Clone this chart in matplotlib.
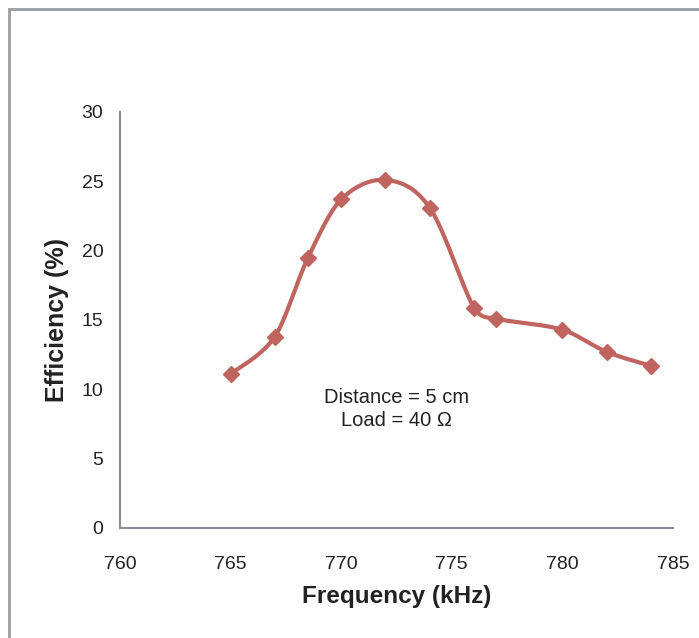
import numpy as np
import matplotlib
matplotlib.use("Agg")
import matplotlib.pyplot as plt
from matplotlib.patches import Rectangle

plt.rcParams['font.family'] = ['Liberation Sans', 'DejaVu Sans']

freq = [765, 767, 768.5, 770, 772, 774, 776, 777, 780, 782, 784]        # kHz
eff = [11.1, 13.8, 19.5, 23.7, 25.1, 23.1, 15.9, 15.1, 14.3, 12.7, 11.7]  # %
xticks = [760, 765, 770, 775, 780, 785]
yticks = [0, 5, 10, 15, 20, 25, 30]

line_col = '#BF645E'
axis_col = '#8A8D93'


def smooth(x, y, n=30):
    # bezier smoothing like a spreadsheet "smoothed line"
    p = np.column_stack([x, y]).astype(float)
    pts = [p[0]]
    t = np.linspace(0, 1, n)[1:, None]
    for i in range(len(p) - 1):
        a = p[i - 1] if i > 0 else p[i]
        d = p[i + 2] if i + 2 < len(p) else p[i + 1]
        dx = p[i + 1][0] - p[i][0]
        t1 = (p[i + 1] - a) / 6
        t2 = (d - p[i]) / 6
        # keep control points inside the segment span
        if t1[0] > dx / 3:
            t1 = t1 * (dx / 3) / t1[0]
        if t2[0] > dx / 3:
            t2 = t2 * (dx / 3) / t2[0]
        c1 = p[i] + t1
        c2 = p[i + 1] - t2
        seg = ((1 - t) ** 3) * p[i] + 3 * ((1 - t) ** 2) * t * c1 \
            + 3 * (1 - t) * t ** 2 * c2 + t ** 3 * p[i + 1]
        pts.extend(seg)
    pts = np.array(pts)
    return pts[:, 0], pts[:, 1]


fig = plt.figure(figsize=(6.99, 6.38), dpi=100)
ax = fig.add_axes([120 / 699, 1 - 528 / 638, 553 / 699, 416 / 638])

sx, sy = smooth(freq, eff)
ax.plot(sx, sy, color=line_col, lw=3, solid_capstyle='round')
ax.plot(freq, eff, ls='none', marker='D', ms=8, color=line_col)

ax.set_xlim(760, 785)
ax.set_ylim(0, 30)
ax.set_xticks(xticks)
ax.set_yticks(yticks)
ax.tick_params(length=0, labelsize=14, colors='#222222')
ax.tick_params(axis='x', pad=20)
ax.tick_params(axis='y', pad=12)
for s in ['top', 'right']:
    ax.spines[s].set_visible(False)
for s in ['left', 'bottom']:
    ax.spines[s].set_color(axis_col)
    ax.spines[s].set_linewidth(1.5)

ax.set_xlabel('Frequency (kHz)', fontsize=17.5, fontweight='bold', color='#222222', labelpad=9)
ax.set_ylabel('Efficiency (%)', fontsize=18, fontweight='bold', color='#222222', labelpad=9)

ax.text(772.5, 8.6, 'Distance = 5 cm\nLoad = 40 \u03a9', ha='center', va='center',
        fontsize=14.5, color='#222222', linespacing=1.25)

fig.patches.append(Rectangle((9 / 699, -0.1), 1.2, 1 - 9 / 638 + 0.1,
                             transform=fig.transFigure, fill=False,
                             edgecolor='#9A9DA2', lw=2))

fig.savefig('out.png', dpi=100)
